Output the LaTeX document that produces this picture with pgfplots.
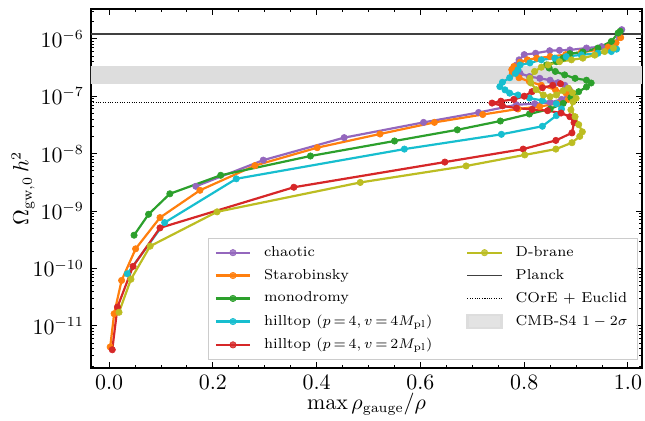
\documentclass[border=0pt]{standalone}
\usepackage{pgfplots}
\pgfplotsset{compat=1.18}
\definecolor{cpurple}{HTML}{9467BD}
\definecolor{corange}{HTML}{FF7F0E}
\definecolor{cgreen}{HTML}{2CA02C}
\definecolor{ccyan}{HTML}{17BECF}
\definecolor{cred}{HTML}{D62728}
\definecolor{colive}{HTML}{BCBD22}
\definecolor{cplanck}{HTML}{404040}
\definecolor{cband}{HTML}{DDDDDD}
\begin{document}
\begin{tikzpicture}
\useasboundingbox (-45.5pt,-26pt) rectangle (277pt,184pt);
\begin{axis}[
  at={(0,0)}, anchor=south west,
  scale only axis, width=275.5pt, height=179.5pt,
  ymode=log,
  xmin=-0.035, xmax=1.027,
  ymin=1.85e-12, ymax=3.3e-6,
  xtick={0,0.2,0.4,0.6,0.8,1.0},
  minor x tick num=3,
  xticklabel style={/pgf/number format/.cd, fixed, fixed zerofill, precision=1},
  ticklabel style={font=\fontsize{10.5}{12}\selectfont},
  label style={font=\fontsize{10.5}{12}\selectfont},
  major tick length=3pt, minor tick length=1.6pt,
  every tick/.style={black, line width=0.5pt},
  axis line style={line width=0.8pt},
  xlabel={$\max \rho_{\mathrm{gauge}}/\rho$},
  ylabel={$\Omega_{\mathrm{gw},0}\,h^2$},
  xlabel style={at={(rel axis cs:0.5,-0.1003)}, anchor=center},
  ylabel style={at={(rel axis cs:-0.1234,0.5)}, anchor=center},
  legend columns=2,
  legend cell align=left,
  legend style={at={(0.993,0.022)}, anchor=south east, font=\fontsize{7.2}{8.6}\selectfont,
    draw=black!20, line width=0.5pt, fill=white, fill opacity=0.8, text opacity=1,
    row sep=0.9pt,
    /tikz/every odd column/.append style={column sep=4.5pt},
    /tikz/every even column/.append style={column sep=15pt}},
  every axis plot/.append style={line width=1.1pt, mark size=1.6pt, mark options={line width=0.3pt}},
]
% bands and bounds
\addplot[fill=cband, draw=none, forget plot, mark=none] coordinates {(-0.1,1.66e-7) (1.1,1.66e-7) (1.1,3.42e-7) (-0.1,3.42e-7)} -- cycle;
\addplot[cplanck, line width=0.7pt, forget plot, mark=none] coordinates {(-0.1,1.22e-6) (1.1,1.22e-6)};
\addplot[black, line width=0.45pt, dash pattern=on 0.45pt off 0.75pt, forget plot, mark=none] coordinates {(-0.1,7.66e-8) (1.1,7.66e-8)};

% chaotic
\addplot[cpurple, mark=*, forget plot] coordinates {
(0.167,2.7e-9) (0.297,7.7e-9) (0.453,1.9e-8) (0.606,3.5e-8) (0.712,5.2e-8) (0.785,7.1e-8)
(0.82,7.4e-8) (0.85,7.8e-8) (0.872,8.8e-8) (0.885,1.05e-7) (0.887,1.3e-7) (0.878,1.55e-7)
(0.865,1.72e-7) (0.85,1.9e-7) (0.83,2.05e-7) (0.81,2.2e-7) (0.792,2.5e-7) (0.782,2.85e-7)
(0.781,3.1e-7) (0.785,3.5e-7) (0.79,4.3e-7) (0.8,5.3e-7) (0.822,5.6e-7) (0.849,6.2e-7)
(0.868,6.3e-7) (0.888,6.4e-7) (0.92,6.9e-7) (0.949,7.3e-7) (0.974,8.4e-7) (0.983,1.1e-6) (0.988,1.44e-6)};

% Starobinsky
\addplot[corange, mark=*, forget plot] coordinates {
(0.002,4.3e-12) (0.0096,1.63e-11) (0.024,6.2e-11) (0.051,2.2e-10) (0.098,7.7e-10) (0.175,2.3e-9)
(0.281,6.2e-9) (0.401,1.27e-8) (0.522,2.2e-8) (0.627,3.5e-8) (0.72,4.8e-8) (0.788,6e-8)
(0.83,6.6e-8) (0.865,7.5e-8) (0.885,8.8e-8) (0.89,1.0e-7) (0.88,1.15e-7) (0.86,1.3e-7)
(0.833,1.55e-7) (0.81,1.8e-7) (0.79,2.1e-7) (0.777,2.5e-7) (0.776,2.9e-7) (0.78,3.3e-7)
(0.792,3.9e-7) (0.806,4.3e-7) (0.824,4.6e-7) (0.85,4.9e-7) (0.88,5.3e-7) (0.91,5.8e-7)
(0.94,6.4e-7) (0.962,7.2e-7) (0.977,8.5e-7) (0.986,1.05e-6)};

% monodromy
\addplot[cgreen, mark=*, forget plot] coordinates {
(0.048,3.8e-10) (0.076,8.8e-10) (0.117,2.0e-9) (0.215,4.2e-9) (0.388,9.1e-9) (0.55,1.66e-8)
(0.671,2.6e-8) (0.754,3.7e-8) (0.81,4.9e-8) (0.85,6e-8) (0.875,7.5e-8) (0.89,9.5e-8)
(0.905,1.2e-7) (0.92,1.45e-7) (0.929,1.7e-7) (0.92,1.9e-7) (0.898,2.05e-7) (0.878,2.35e-7)
(0.86,2.7e-7) (0.848,3.1e-7) (0.843,3.5e-7) (0.862,4.0e-7) (0.875,4.6e-7) (0.888,5.5e-7)
(0.913,5.9e-7) (0.942,6.9e-7) (0.968,9e-7) (0.981,1.26e-6) (0.985,1.35e-6)};

% hilltop v=4
\addplot[ccyan, mark=*, forget plot] coordinates {
(0.035,8.1e-11) (0.107,6.3e-10) (0.245,3.65e-9) (0.569,1.2e-8) (0.756,2.17e-8) (0.835,3e-8)
(0.862,4.6e-8) (0.872,6e-8) (0.862,7.4e-8) (0.835,8.4e-8) (0.81,9.3e-8) (0.788,1.05e-7)
(0.772,1.13e-7) (0.763,1.29e-7) (0.753,1.47e-7) (0.758,1.75e-7) (0.772,2.1e-7) (0.783,2.5e-7)
(0.788,2.9e-7) (0.792,3.5e-7) (0.811,3.8e-7) (0.833,4.3e-7) (0.859,4.6e-7) (0.881,4.9e-7)
(0.91,5.25e-7) (0.942,5.6e-7) (0.968,6e-7) (0.978,6.6e-7)};

% hilltop v=2
\addplot[cred, mark=*, forget plot] coordinates {
(0.006,3.85e-12) (0.016,2.13e-11) (0.046,1.09e-10) (0.098,5.1e-10) (0.356,2.6e-9) (0.647,7.13e-9)
(0.798,1.2e-8) (0.861,1.7e-8) (0.892,2.3e-8) (0.896,3.47e-8) (0.888,4.4e-8) (0.871,5.1e-8)
(0.845,5.6e-8) (0.815,5.9e-8) (0.785,6.2e-8) (0.758,6.8e-8) (0.738,7.6e-8) (0.755,8.2e-8)
(0.78,8.8e-8) (0.8,1.0e-7) (0.815,1.2e-7) (0.835,1.4e-7) (0.855,1.55e-7) (0.87,1.65e-7)};

% D-brane
\addplot[colive, mark=*, forget plot] coordinates {
(0.019,1.73e-11) (0.042,6.5e-11) (0.079,2.45e-10) (0.208,9.7e-10) (0.484,3.15e-9) (0.688,6.1e-9)
(0.801,9.5e-9) (0.861,1.2e-8) (0.892,1.55e-8) (0.907,2.0e-8) (0.912,2.4e-8) (0.905,3.2e-8)
(0.898,4.4e-8) (0.89,5.8e-8) (0.894,8e-8) (0.9,9.2e-8) (0.893,1.15e-7) (0.885,1.38e-7)
(0.875,1.25e-7) (0.862,1.05e-7) (0.85,9.8e-8) (0.837,1.05e-7) (0.823,1.3e-7) (0.813,1.7e-7)
(0.811,2.06e-7) (0.82,2.7e-7) (0.833,3.2e-7) (0.846,3.5e-7) (0.868,4e-7) (0.891,4.3e-7)
(0.913,4.6e-7) (0.936,5.2e-7) (0.955,6e-7) (0.972,6.9e-7)};

% legend (row-wise order for two columns)
\addlegendimage{cpurple, mark=*}\addlegendentry{chaotic}
\addlegendimage{colive, mark=*}\addlegendentry{D-brane}
\addlegendimage{corange, mark=*}\addlegendentry{Starobinsky}
\addlegendimage{cplanck, line width=0.7pt}\addlegendentry{Planck}
\addlegendimage{cgreen, mark=*}\addlegendentry{monodromy}
\addlegendimage{black, line width=0.45pt, dash pattern=on 0.45pt off 0.75pt}\addlegendentry{COrE + Euclid}
\addlegendimage{ccyan, mark=*}\addlegendentry{hilltop {\thickmuskip=3mu $(p=4, v=4M_{\mathrm{pl}})$}}
\addlegendimage{legend image code/.code={\fill[cband] (0pt,-3.1pt) rectangle (17pt,3.1pt);}}\addlegendentry{CMB-S4 $1-2\sigma$}
\addlegendimage{cred, mark=*}\addlegendentry{hilltop {\thickmuskip=3mu $(p=4, v=2M_{\mathrm{pl}})$}}
\end{axis}
\end{tikzpicture}
\end{document}
